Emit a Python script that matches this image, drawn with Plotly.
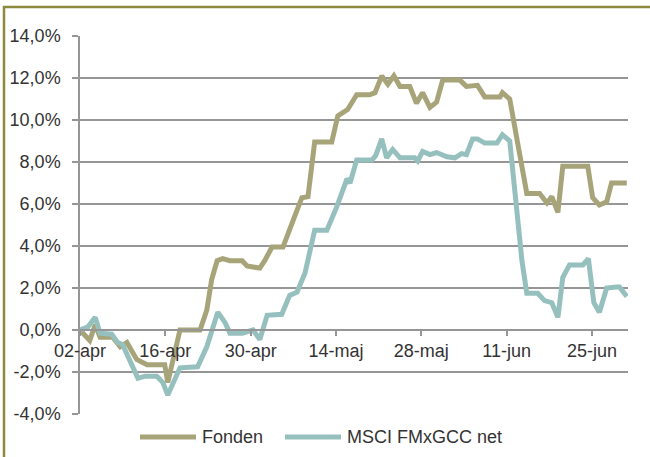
import pandas as pd
import plotly.graph_objects as go

start_date = "2012-04-02"

# Fonden: day offsets from 02-apr and cumulative return (%)
fonden_days = [0, 1.6, 2.5, 3.3, 5.4, 6.6, 7.7, 9.3, 11.0, 13.9, 14.4, 16.4, 19.7, 20.8,
               21.6, 22.5, 23.4, 24.6, 26.6, 27.4, 28.4, 29.5, 30.3, 31.5, 33.3, 34.1,
               35.2, 36.4, 37.4, 38.5, 41.3, 42.3, 43.9, 45.4, 47.5, 48.4, 49.5, 50.5,
               51.5, 52.5, 54.1, 55.2, 56.2, 57.4, 58.5, 59.5, 62.3, 63.4, 65.2, 66.4,
               68.9, 69.3, 70.5, 71.8, 73.3, 75.4, 76.6, 77.4, 78.4, 79.2, 83.3, 84.1,
               85.2, 86.4, 87.2, 89.7]
fonden_vals = [0.0, -0.5, 0.25, -0.35, -0.35, -0.8, -0.6, -1.4, -1.65, -1.65, -2.5, 0.0,
               0.0, 0.95, 2.4, 3.3, 3.4, 3.3, 3.3, 3.05, 3.0, 2.95, 3.3, 3.95, 3.95, 4.5,
               5.4, 6.3, 6.35, 8.95, 8.95, 10.2, 10.5, 11.2, 11.2, 11.3, 12.1, 11.7, 12.1,
               11.6, 11.6, 10.8, 11.3, 10.6, 10.85, 11.9, 11.9, 11.6, 11.65, 11.1, 11.1,
               11.3, 11.0, 8.9, 6.5, 6.5, 6.05, 6.35, 5.6, 7.8, 7.8, 6.3, 5.95, 6.1, 7.0,
               7.0]

# MSCI FMxGCC net
msci_days = [0, 1.3, 2.5, 3.3, 5.2, 6.2, 7.0, 8.5, 9.5, 10.7, 12.6, 13.6, 14.4, 16.4,
             19.3, 20.8, 21.6, 22.6, 23.8, 24.6, 26.6, 28.4, 29.5, 30.7, 33.1, 34.4,
             35.6, 36.9, 38.5, 40.5, 42.1, 43.8, 44.3, 45.4, 47.9, 48.5, 49.5, 50.3,
             51.3, 52.5, 54.9, 55.4, 56.2, 57.4, 58.5, 60.2, 61.5, 62.6, 63.4, 64.4,
             65.2, 66.4, 68.4, 69.3, 70.5, 71.6, 72.5, 73.3, 75.1, 76.2, 77.4, 78.4,
             79.2, 80.3, 82.5, 83.4, 84.3, 85.2, 86.4, 88.0, 88.5, 89.7]
msci_vals = [0.0, 0.15, 0.6, -0.15, -0.2, -0.6, -0.7, -1.75, -2.3, -2.2, -2.2, -2.5,
             -3.1, -1.8, -1.75, -0.8, 0.0, 0.85, 0.35, -0.15, -0.15, 0.0, -0.45, 0.7,
             0.75, 1.65, 1.8, 2.7, 4.75, 4.75, 5.85, 7.2, 7.0, 8.1, 8.1, 8.3, 9.1, 8.2,
             8.6, 8.2, 8.2, 8.05, 8.5, 8.35, 8.45, 8.25, 8.2, 8.4, 8.35, 9.1, 9.1, 8.9,
             8.9, 9.3, 9.0, 5.7, 3.3, 1.75, 1.75, 1.4, 1.3, 0.6, 2.5, 3.1, 3.1, 3.4, 1.3,
             0.85, 2.0, 2.05, 2.05, 1.6]

series_names = ["Fonden", "MSCI FMxGCC net"]
series_colors = ["#A7A47A", "#96C0BE"]

tick_dates = ["2012-04-02", "2012-04-16", "2012-04-30", "2012-05-14", "2012-05-28",
              "2012-06-11", "2012-06-25"]
tick_labels = ["02-apr", "16-apr", "30-apr", "14-maj", "28-maj", "11-jun", "25-jun"]
y_ticks = [-4, -2, 0, 2, 4, 6, 8, 10, 12, 14]
y_labels = ["-4,0%", "-2,0%", "0,0%", "2,0%", "4,0%", "6,0%", "8,0%", "10,0%", "12,0%", "14,0%"]

W, H = 650, 457
L, R, T, B = 80, 22, 36, 43
PW, PH = W - L - R, H - T - B

def px(xp):
    return (xp - L) / PW

def py(yp):
    return (H - B - yp) / PH

t0 = pd.Timestamp(start_date)
def to_dates(days):
    return [t0 + pd.Timedelta(hours=d * 24) for d in days]

fig = go.Figure()
for name, days, vals, col in [(series_names[0], fonden_days, fonden_vals, series_colors[0]),
                              (series_names[1], msci_days, msci_vals, series_colors[1])]:
    fig.add_trace(go.Scatter(x=to_dates(days), y=vals, mode="lines", name=name,
                             line=dict(color=col, width=5), showlegend=False,
                             hoverinfo="skip"))

grid = "#969696"
fig.update_layout(
    width=W, height=H,
    margin=dict(l=L, r=R, t=T, b=B),
    paper_bgcolor="white", plot_bgcolor="white",
    font=dict(family="Liberation Sans, Arial, sans-serif", size=18, color="#333333"),
    showlegend=False,
    xaxis=dict(type="date", range=[t0, t0 + pd.Timedelta(hours=89.9 * 24)],
               tickvals=tick_dates, ticktext=tick_labels,
               showgrid=False, zeroline=False, showline=True, linecolor=grid, linewidth=1.5,
               ticks="outside", ticklen=5, tickcolor=grid, tickwidth=1.5,
               anchor="free", position=4 / 18, automargin=False),
    yaxis=dict(range=[-4, 14], tickvals=y_ticks, ticktext=y_labels,
               showgrid=True, gridcolor=grid, gridwidth=1.5, zeroline=False,
               showline=True, linecolor=grid, linewidth=1.5,
               ticks="outside", ticklen=6, tickcolor=grid, tickwidth=1.5,
               ticklabelstandoff=8, automargin=False),
)

# outer frame
fig.add_shape(type="rect", xref="paper", yref="paper",
              x0=px(4), x1=px(670), y0=py(480), y1=py(7),
              line=dict(color="#8E8A3C", width=2.5), fillcolor="rgba(0,0,0,0)", layer="below")

# legend (drawn manually to match long line samples)
leg_y = py(437)
for (x0, x1, xt), name, col in zip([(140, 196, 200), (285, 341, 345)], series_names, series_colors):
    fig.add_shape(type="line", xref="paper", yref="paper", x0=px(x0), x1=px(x1),
                  y0=leg_y, y1=leg_y, line=dict(color=col, width=5))
    fig.add_annotation(xref="paper", yref="paper", x=px(xt), y=leg_y, text=name,
                       showarrow=False, xanchor="left", yanchor="middle",
                       font=dict(size=18, color="#333333"))

fig.write_html("out.html", config={"displayModeBar": False},
               post_script="document.body.style.margin='0';")
